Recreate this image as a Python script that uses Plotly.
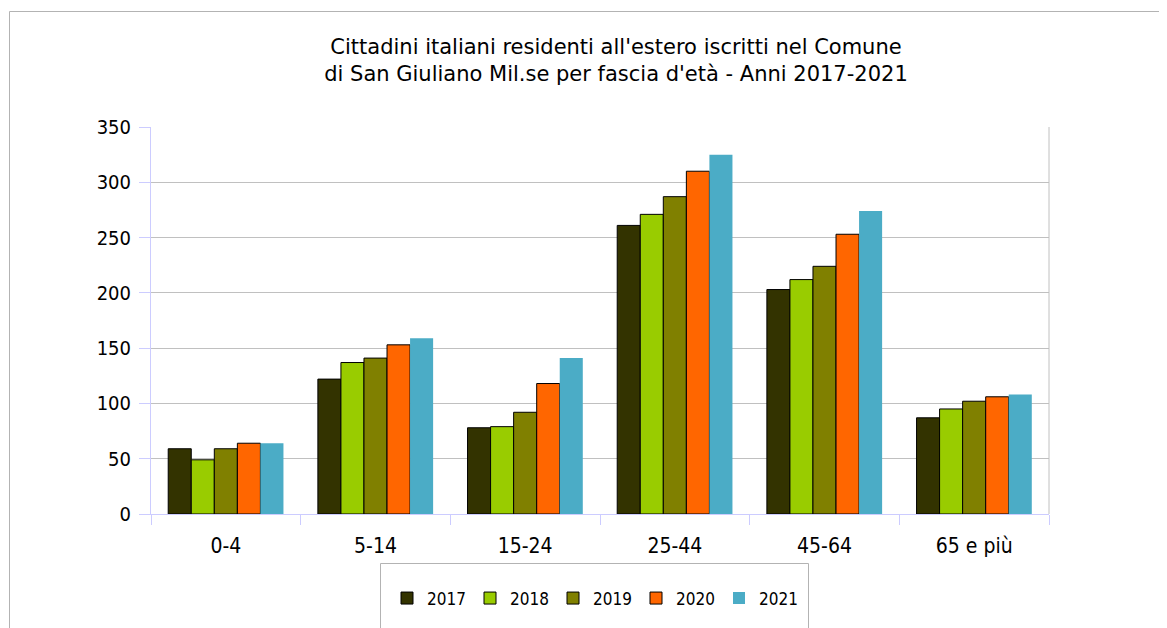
import plotly.graph_objects as go

categories = ["0-4", "5-14", "15-24", "25-44", "45-64", "65 e più"]
years = ["2017", "2018", "2019", "2020", "2021"]
v2017 = [59, 122, 78, 261, 203, 87]
v2018 = [49, 137, 79, 271, 212, 95]
v2019 = [59, 141, 92, 287, 224, 102]
v2020 = [64, 153, 118, 310, 253, 106]
v2021 = [64, 159, 141, 325, 274, 108]
colors = ["#333300", "#99cc00", "#808000", "#ff6600", "#4bacc6"]
series = [v2017, v2018, v2019, v2020, v2021]

OFF = 8  # default page body margin
W, H = 1167 - OFF, 628 - OFF
# plot area in page coordinates
PL, PR, PT, PB = 151, 1049, 127, 514
L, R, T, B = PL - OFF, PR - OFF, PT - OFF, PB - OFF

def px(x):
    return (x - OFF - L) / (R - L)

def py(y):
    return (B - (y - OFF)) / (B - T)

fig = go.Figure()
for yr, vals, col in zip(years, series, colors):
    outline = 0 if yr == "2021" else 1
    fig.add_trace(go.Bar(
        x=categories, y=vals, name=yr,
        marker=dict(color=col, line=dict(color="#000000", width=outline)),
    ))

FONT = "DejaVu Sans"
FONTC = "DejaVu Sans Condensed, DejaVu Sans"
fig.update_layout(
    width=W, height=H,
    margin=dict(l=L, r=W - R, t=T, b=H - B),
    paper_bgcolor="white", plot_bgcolor="white",
    barmode="group", bargap=0.23, bargroupgap=0,
    font=dict(family=FONT, color="#000000"),
    title=dict(
        text="Cittadini italiani residenti all'estero iscritti nel Comune<br>di San Giuliano Mil.se per fascia d'età - Anni 2017-2021",
        x=(616 - OFF) / W, xanchor="center", y=1 - (54 - OFF) / H, yanchor="top",
        font=dict(family=FONT, size=21, color="#000000"),
    ),
    xaxis=dict(
        showgrid=False, showline=True, linecolor="#ccccff", linewidth=1,
        ticks="outside", tickson="boundaries", ticklen=10, tickcolor="#ccccff",
        tickfont=dict(family=FONTC, size=21, color="#000000"),
        ticklabelstandoff=13,
    ),
    yaxis=dict(
        range=[0, 350], dtick=50, showgrid=True, gridcolor="#c0c0c0", gridwidth=1,
        showline=True, linecolor="#ccccff", linewidth=1,
        ticks="outside", ticklen=11, tickcolor="#ccccff",
        tickfont=dict(family=FONTC, size=20, color="#000000"),
        ticklabelstandoff=4,
        zeroline=False,
    ),
    legend=dict(
        orientation="h", x=px(387), xanchor="left", y=py(580.5), yanchor="top",
        font=dict(family=FONTC, size=17, color="#000000"),
        bgcolor="rgba(0,0,0,0)", borderwidth=0,
        entrywidth=38, entrywidthmode="pixels",
        traceorder="normal",
    ),
    showlegend=True,
    shapes=[
        dict(type="rect", xref="paper", yref="paper",
             x0=px(9.5), x1=px(1190), y0=py(660), y1=py(11.5),
             line=dict(color="#b3b3b3", width=1), fillcolor="rgba(0,0,0,0)", layer="below"),
        dict(type="rect", xref="paper", yref="paper",
             x0=px(380.5), x1=px(808.5), y0=py(660), y1=py(563.5),
             line=dict(color="#b3b3b3", width=1), fillcolor="rgba(0,0,0,0)", layer="below"),
        dict(type="line", xref="paper", yref="paper",
             x0=1, x1=1, y0=0, y1=1,
             line=dict(color="#c0c0c0", width=1)),
    ],
)

fig.write_html("out.html")
